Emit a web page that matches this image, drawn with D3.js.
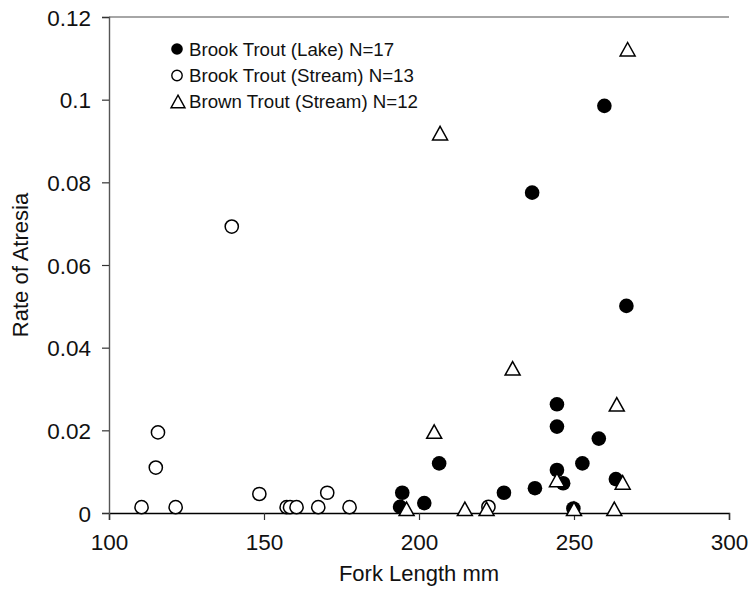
<!DOCTYPE html>
<html><head><meta charset="utf-8">
<script src="https://cdn.jsdelivr.net/npm/d3@7"></script>
<style>body{margin:0;background:#fff}svg{display:block}text{font-family:"Liberation Sans",Arial,sans-serif;fill:#111}</style>
</head><body><svg id="c" width="752" height="602"></svg>
<script>
const lakeX = [193.9,194.6,201.7,206.5,227.4,237.4,244.5,244.5,244.5,246.5,252.7,258.0,263.5,249.8,236.5,259.8,266.9];
const lakeY = [0.0015,0.0049,0.0024,0.0120,0.0049,0.0060,0.0104,0.0209,0.0263,0.0072,0.0120,0.0180,0.0082,0.0011,0.0775,0.0985,0.0501];
const streamX = [110.5,115.1,115.8,121.5,139.6,148.5,157.3,158.4,160.5,167.5,170.4,177.6,222.4];
const streamY = [0.0014,0.0110,0.0195,0.0014,0.0693,0.0046,0.0014,0.0014,0.0014,0.0014,0.0049,0.0014,0.0015];
const brownX = [196.0,204.9,214.8,221.8,244.5,250.0,263.0,263.8,265.7,267.3,206.8,230.2];
const brownY = [0.0010,0.0197,0.0010,0.0010,0.0080,0.0010,0.0010,0.0263,0.0074,0.1122,0.0919,0.0350];
const xTicks = [100,150,200,250,300];
const yTicks = [0,0.02,0.04,0.06,0.08,0.1,0.12];
const legendLabels = ["Brook Trout (Lake) N=17","Brook Trout (Stream) N=13","Brown Trout (Stream) N=12"];
const xTitle = "Fork Length mm", yTitle = "Rate of Atresia";

const svg = d3.select("#c");
const x = d3.scaleLinear().domain([100,300]).range([109,729]);
const y = d3.scaleLinear().domain([0,0.12]).range([513,17]);

// top border
svg.append("line").attr("x1",109).attr("x2",729).attr("y1",y(0.12)).attr("y2",y(0.12)).attr("stroke","#888").attr("stroke-width",1.3);

const fmt = d => d===0 ? "0" : String(+d.toFixed(2));
const gx = svg.append("g").attr("transform","translate(0,"+y(0)+")")
  .call(d3.axisBottom(x).tickValues(xTicks).tickSize(7).tickPadding(14).tickFormat(d3.format("d")));
const gy = svg.append("g").attr("transform","translate("+x(100)+",0)")
  .call(d3.axisLeft(y).tickValues(yTicks).tickSize(7).tickPadding(11).tickFormat(fmt));
[gx,gy].forEach(g=>{
  g.selectAll("text").attr("font-size","22.5px").attr("font-family","Liberation Sans, Arial").attr("fill","#111");
});
gx.select(".domain").attr("stroke","#000").attr("stroke-width",1.4);
gx.selectAll(".tick line").attr("stroke","#333").attr("stroke-width",1.2);
gy.select(".domain").attr("stroke","#555").attr("stroke-width",1.4);
gy.selectAll(".tick line").attr("stroke","#333").attr("stroke-width",1.2);
gx.selectAll("text").attr("dy","0.71em");
gy.selectAll("text").attr("dy","0.36em");

svg.append("text").attr("x",(x(100)+x(300))/2).attr("y",581).attr("text-anchor","middle").attr("font-size","22px").text(xTitle);
svg.append("text").attr("transform","translate(28,"+((y(0)+y(0.12))/2)+") rotate(-90)").attr("text-anchor","middle").attr("font-size","22px").text(yTitle);

const tri = (cx,cy,s) => {
  const h = s*0.9;
  return `M${cx},${cy-h/2}L${cx+s/2},${cy+h/2}L${cx-s/2},${cy+h/2}Z`;
};

const pts = svg.append("g");
pts.selectAll("circle.lake").data(lakeX.map((v,i)=>[v,lakeY[i]])).join("circle")
  .attr("class","lake").attr("cx",d=>x(d[0])).attr("cy",d=>y(d[1])).attr("r",7.3).attr("fill","#000");
pts.selectAll("circle.stream").data(streamX.map((v,i)=>[v,streamY[i]])).join("circle")
  .attr("class","stream").attr("cx",d=>x(d[0])).attr("cy",d=>y(d[1])).attr("r",6.6).attr("fill","#fff").attr("stroke","#000").attr("stroke-width",1.5);
pts.selectAll("path.brown").data(brownX.map((v,i)=>[v,brownY[i]])).join("path")
  .attr("class","brown").attr("d",d=>tri(x(d[0]),y(d[1]),15)).attr("fill","#fff").attr("stroke","#000").attr("stroke-width",1.5).attr("stroke-linejoin","miter");

// legend
const lg = svg.append("g");
const ly = [49,75.5,101.5];
lg.append("circle").attr("cx",177).attr("cy",ly[0]).attr("r",5.8).attr("fill","#000");
lg.append("circle").attr("cx",177).attr("cy",ly[1]).attr("r",5.2).attr("fill","#fff").attr("stroke","#000").attr("stroke-width",1.4);
lg.append("path").attr("d",tri(178,ly[2],14)).attr("fill","#fff").attr("stroke","#000").attr("stroke-width",1.4);
legendLabels.forEach((t,i)=>{
  lg.append("text").attr("x",189).attr("y",ly[i]).attr("dy","0.36em").attr("font-size","18.7px").text(t);
});
</script></body></html>
